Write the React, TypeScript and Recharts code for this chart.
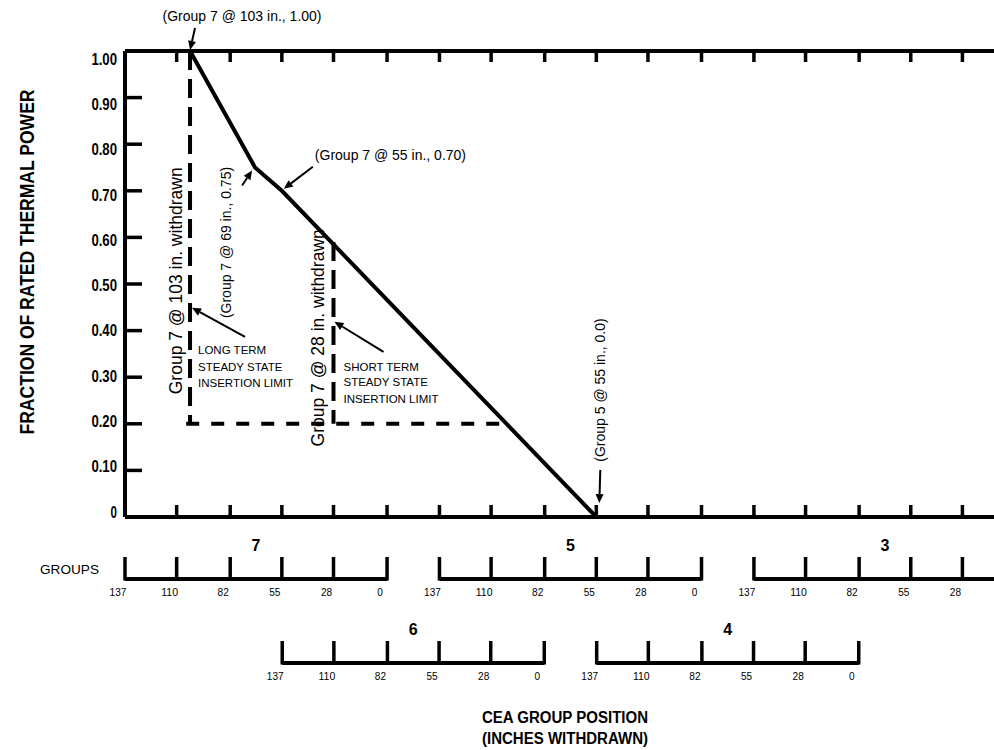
import React from 'react';
import { ComposedChart, Line, XAxis, YAxis, ReferenceDot, ReferenceLine, Scatter } from 'recharts';

const FONT = "Arial, 'Liberation Sans', Helvetica, sans-serif";

// ---- Y axis (fraction of rated thermal power)
const Y_TICKS = [0, 0.1, 0.2, 0.3, 0.4, 0.5, 0.6, 0.7, 0.8, 0.9, 1.0];
const Y_TICK_LABELS = ['0', '0.10', '0.20', '0.30', '0.40', '0.50', '0.60', '0.70', '0.80', '0.90', '1.00'];

// ---- CEA group scales (inches withdrawn)
const INCH_TICKS = [137, 110, 82, 55, 28, 0];
const FULL_OUT = 137;
const GROUP_NAMES = ['7', '6', '5', '4', '3'];
const GROUP_ROWS = [1, 2, 1, 2, 1];
// inches of cumulative insertion at which each group starts moving in
const GROUP_OFFSETS = [0, 82.2, 164.4, 246.6, 328.8];
const X_DOMAIN_MAX = 470;

// ---- PDIL curve
const LIMIT_GROUP = ['7', '7', '7', '5'];
const LIMIT_INCHES = [103, 69, 55, 55];
const LIMIT_POWER = [1.0, 0.75, 0.7, 0.0];

// ---- dashed steady state insertion limits
const LONG_TERM_GROUP = ['7', '7'];
const LONG_TERM_INCHES = [103, 103];
const LONG_TERM_POWER = [1.0, 0.2];
const SHORT_TERM_GROUP = ['7', '7'];
const SHORT_TERM_INCHES = [28, 28];
const SHORT_TERM_POWER = [0.59, 0.2];
const FLOOR_GROUP = ['7', '5'];
const FLOOR_INCHES = [105, 103];
const FLOOR_POWER = [0.2, 0.2];

const pos = (group: string, inches: number) =>
  GROUP_OFFSETS[GROUP_NAMES.indexOf(group)] + (FULL_OUT - inches);

const toPoints = (groups: string[], inches: number[], power: number[]) =>
  groups.map((g, i) => ({ s: pos(g, inches[i]), p: power[i] }));

const limitData = toPoints(LIMIT_GROUP, LIMIT_INCHES, LIMIT_POWER);
const longTermData = toPoints(LONG_TERM_GROUP, LONG_TERM_INCHES, LONG_TERM_POWER);
const shortTermData = toPoints(SHORT_TERM_GROUP, SHORT_TERM_INCHES, SHORT_TERM_POWER);
const floorData = toPoints(FLOOR_GROUP, FLOOR_INCHES, FLOOR_POWER);

// main axis ticks: where the group-scale ticks of row 1 fall
const MAIN_TICKS = GROUP_NAMES.flatMap((g, i) =>
  GROUP_ROWS[i] === 1 ? INCH_TICKS.map((inch) => pos(g, inch)) : []
).filter((s) => s > 0 && s <= X_DOMAIN_MAX);

const groupTickData = GROUP_NAMES.flatMap((g, i) =>
  INCH_TICKS.map((inch) => ({ s: pos(g, inch), r: GROUP_ROWS[i], label: String(inch) }))
);
const groupBarData = GROUP_NAMES.map((g, i) => [
  { s: pos(g, FULL_OUT), r: GROUP_ROWS[i] },
  { s: pos(g, 0), r: GROUP_ROWS[i] },
]);
const groupNameData = GROUP_NAMES.map((g, i) => ({
  s: pos(g, FULL_OUT / 2),
  r: GROUP_ROWS[i],
  name: g,
}));

const Arrow = ({ x1, y1, x2, y2 }: any) => {
  const dx = x2 - x1;
  const dy = y2 - y1;
  const len = Math.hypot(dx, dy) || 1;
  const ux = dx / len;
  const uy = dy / len;
  const hl = 9;
  const hw = 4;
  const bx = x2 - ux * hl;
  const by = y2 - uy * hl;
  return (
    <g>
      <line x1={x1} y1={y1} x2={bx} y2={by} stroke="#000" strokeWidth={2} />
      <polygon
        points={`${x2},${y2} ${bx - uy * hw},${by + ux * hw} ${bx + uy * hw},${by - ux * hw}`}
        fill="#000"
      />
    </g>
  );
};

const VText = ({ x, y, size, children }: any) => (
  <text
    x={x}
    y={y}
    transform={`rotate(-90 ${x} ${y})`}
    textAnchor="middle"
    dominantBaseline="central"
    fontSize={size}
    fontFamily={FONT}
    fill="#000"
  >
    {children}
  </text>
);

const YTick = (props: any) => {
  const { x, y, payload } = props;
  const v = payload.value;
  const idx = Y_TICKS.findIndex((t) => Math.abs(t - v) < 1e-6);
  const label = idx >= 0 ? Y_TICK_LABELS[idx] : String(v);
  const off = 8 - (1 - v) * 13;
  return (
    <g>
      <line x1={x} x2={x + 17} y1={y} y2={y} stroke="#000" strokeWidth={3.5} />
      <text
        x={x - 8}
        y={y + off + 5.6}
        textAnchor="end"
        fontSize={16}
        fontWeight="bold"
        fontFamily={FONT}
        fill="#000"
        textLength={label.length * 6.4}
        lengthAdjust="spacingAndGlyphs"
      >
        {label}
      </text>
    </g>
  );
};

const BottomTick = (props: any) => {
  const { x, y } = props;
  return <line x1={x} x2={x} y1={y} y2={y - 12} stroke="#000" strokeWidth={3.5} />;
};
const TopTick = (props: any) => {
  const { x, y } = props;
  return <line x1={x} x2={x} y1={y} y2={y + 11} stroke="#000" strokeWidth={3.5} />;
};

const GroupTick = (props: any) => {
  const { cx, cy, payload } = props;
  const label = payload.label;
  return (
    <g>
      <line x1={cx} x2={cx} y1={cy + 1.5} y2={cy - 22} stroke="#000" strokeWidth={3.5} />
      <text
        x={cx - 7}
        y={cy + 17}
        textAnchor="middle"
        fontSize={11}
        fontFamily={FONT}
        fill="#000"
        textLength={label.length * 5.6}
        lengthAdjust="spacingAndGlyphs"
      >
        {label}
      </text>
    </g>
  );
};

const GroupName = (props: any) => {
  const { cx, cy, payload } = props;
  return (
    <text x={cx} y={cy - 28} textAnchor="middle" fontSize={16} fontWeight="bold" fontFamily={FONT} fill="#000">
      {payload.name}
    </text>
  );
};

const yTitle = (props: any) => {
  const vb = props.viewBox;
  const x = vb.x + 26;
  const y = vb.y + 211;
  return (
    <text
      x={x}
      y={y}
      transform={`rotate(-90 ${x} ${y})`}
      textAnchor="middle"
      dominantBaseline="central"
      fontSize={21}
      fontWeight="bold"
      fontFamily={FONT}
      fill="#000"
      textLength={345}
      lengthAdjust="spacingAndGlyphs"
    >
      FRACTION OF RATED THERMAL POWER
    </text>
  );
};

const groupsTitle = (props: any) => {
  const vb = props.viewBox;
  return (
    <text x={vb.x + 40} y={vb.y - 5} fontSize={13.5} fontFamily={FONT} fill="#000" textLength={59} lengthAdjust="spacingAndGlyphs">
      GROUPS
    </text>
  );
};

const xTitle = (props: any) => {
  const vb = props.viewBox;
  const cx = vb.x + 440;
  return (
    <g>
      <text x={cx} y={vb.y + 60} textAnchor="middle" fontSize={16} fontWeight="bold" fontFamily={FONT} fill="#000" textLength={166} lengthAdjust="spacingAndGlyphs">
        CEA GROUP POSITION
      </text>
      <text x={cx} y={vb.y + 80.5} textAnchor="middle" fontSize={16} fontWeight="bold" fontFamily={FONT} fill="#000" textLength={166} lengthAdjust="spacingAndGlyphs">
        (INCHES WITHDRAWN)
      </text>
    </g>
  );
};

const smallCaps = { fontSize: 11.5, fontFamily: FONT, fill: '#000' } as any;
const FRAME = { stroke: '#000', strokeWidth: 4 };

export default function App() {
  const W = 1024;
  const H = 750;
  return (
    <div style={{ position: 'absolute', left: 0, top: 0, width: 994, height: 750, overflow: 'hidden', background: '#fff' }}>
      <div style={{ position: 'absolute', left: 0, top: 0 }}>
        <ComposedChart width={W} height={H} margin={{ top: 50, right: 0, bottom: 232, left: 0 }}>
          <XAxis
            dataKey="s"
            type="number"
            domain={[0, X_DOMAIN_MAX]}
            ticks={MAIN_TICKS}
            interval={0}
            height={1}
            tickSize={0}
            tickMargin={0}
            tickLine={false}
            tick={<BottomTick />}
            axisLine={false}
          />
          <XAxis
            xAxisId="top"
            orientation="top"
            dataKey="s"
            type="number"
            domain={[0, X_DOMAIN_MAX]}
            allowDataOverflow
            ticks={MAIN_TICKS}
            interval={0}
            height={1}
            tickSize={0}
            tickMargin={0}
            tickLine={false}
            tick={<TopTick />}
            axisLine={false}
          />
          <YAxis
            type="number"
            domain={[0, 1]}
            ticks={Y_TICKS}
            interval={0}
            width={125}
            tickSize={0}
            tickMargin={0}
            tickLine={false}
            tick={<YTick />}
            axisLine={false}
            label={yTitle}
          />
          <ReferenceLine y={1} {...FRAME} />
          <ReferenceLine y={0} {...FRAME} />
          <ReferenceLine x={0} {...FRAME} />

          <Line data={longTermData} dataKey="p" stroke="#000" strokeWidth={4} strokeDasharray="19 9" dot={false} activeDot={false} isAnimationActive={false} />
          <Line data={shortTermData} dataKey="p" stroke="#000" strokeWidth={4} strokeDasharray="19 9" dot={false} activeDot={false} isAnimationActive={false} />
          <Line data={floorData} dataKey="p" stroke="#000" strokeWidth={4} strokeDasharray="13 12" dot={false} activeDot={false} isAnimationActive={false} />
          <Line data={limitData} dataKey="p" stroke="#000" strokeWidth={4} dot={false} activeDot={false} isAnimationActive={false} />

          <ReferenceDot
            x={pos('7', 103)}
            y={1.0}
            shape={({ cx, cy }: any) => (
              <g>
                <text x={cx + 52} y={cy - 30} textAnchor="middle" fontSize={14} fontFamily={FONT} fill="#000">
                  (Group 7 @ 103 in., 1.00)
                </text>
                <Arrow x1={cx + 5} y1={cy - 23} x2={cx} y2={cy - 1} />
              </g>
            )}
          />
          <ReferenceDot
            x={pos('7', 69)}
            y={0.75}
            shape={({ cx, cy }: any) => (
              <g>
                <VText x={cx - 29} y={cy + 75} size={14}>(Group 7 @ 69 in., 0.75)</VText>
                <Arrow x1={cx - 13} y1={cy + 18} x2={cx - 3} y2={cy + 3} />
              </g>
            )}
          />
          <ReferenceDot
            x={pos('7', 55)}
            y={0.7}
            shape={({ cx, cy }: any) => (
              <g>
                <text x={cx + 33} y={cy - 31} fontSize={14} fontFamily={FONT} fill="#000">
                  (Group 7 @ 55 in., 0.70)
                </text>
                <Arrow x1={cx + 31} y1={cy - 24} x2={cx + 2} y2={cy - 2} />
              </g>
            )}
          />
          <ReferenceDot
            x={pos('7', 103)}
            y={0.2}
            shape={({ cx, cy }: any) => (
              <g>
                <VText x={cx - 14} y={cy - 143} size={17.5}>Group 7 @ 103 in. withdrawn</VText>
                <text x={cx + 8} y={cy - 70} {...smallCaps}>LONG TERM</text>
                <text x={cx + 8} y={cy - 53} {...smallCaps}>STEADY STATE</text>
                <text x={cx + 8} y={cy - 37} {...smallCaps}>INSERTION LIMIT</text>
                <Arrow x1={cx + 55} y1={cy - 87} x2={cx + 2} y2={cy - 116} />
              </g>
            )}
          />
          <ReferenceDot
            x={pos('7', 28)}
            y={0.2}
            shape={({ cx, cy }: any) => (
              <g>
                <VText x={cx - 15} y={cy - 86} size={17.5}>Group 7 @ 28 in. withdrawn</VText>
                <text x={cx + 10} y={cy - 53} {...smallCaps}>SHORT TERM</text>
                <text x={cx + 10} y={cy - 38} {...smallCaps}>STEADY STATE</text>
                <text x={cx + 10} y={cy - 21} {...smallCaps}>INSERTION LIMIT</text>
                <Arrow x1={cx + 50} y1={cy - 72} x2={cx + 1} y2={cy - 102} />
              </g>
            )}
          />
          <ReferenceDot
            x={pos('5', 55)}
            y={0}
            shape={({ cx, cy }: any) => (
              <g>
                <VText x={cx + 4} y={cy - 127} size={14}>(Group 5 @ 55 in., 0.0)</VText>
                <Arrow x1={cx + 4} y1={cy - 47} x2={cx + 3} y2={cy - 14} />
              </g>
            )}
          />
        </ComposedChart>
      </div>
      <div style={{ position: 'absolute', left: 0, top: 0 }}>
        <ComposedChart width={W} height={H} margin={{ top: 579, right: 0, bottom: 0, left: 0 }}>
          <XAxis
            dataKey="s"
            type="number"
            domain={[0, X_DOMAIN_MAX]}
            height={87}
            axisLine={false}
            tickLine={false}
            tick={false}
            label={xTitle}
          />
          <YAxis
            type="number"
            domain={[1, 2]}
            reversed
            width={125}
            axisLine={false}
            tickLine={false}
            tick={false}
            label={groupsTitle}
          />
          {groupBarData.map((d, i) => (
            <Line
              key={GROUP_NAMES[i]}
              data={d}
              dataKey="r"
              stroke="#000"
              strokeWidth={4}
              dot={false}
              activeDot={false}
              isAnimationActive={false}
            />
          ))}
          <Scatter data={groupTickData} dataKey="r" shape={<GroupTick />} isAnimationActive={false} />
          <Scatter data={groupNameData} dataKey="r" shape={<GroupName />} isAnimationActive={false} />
        </ComposedChart>
      </div>
    </div>
  );
}
